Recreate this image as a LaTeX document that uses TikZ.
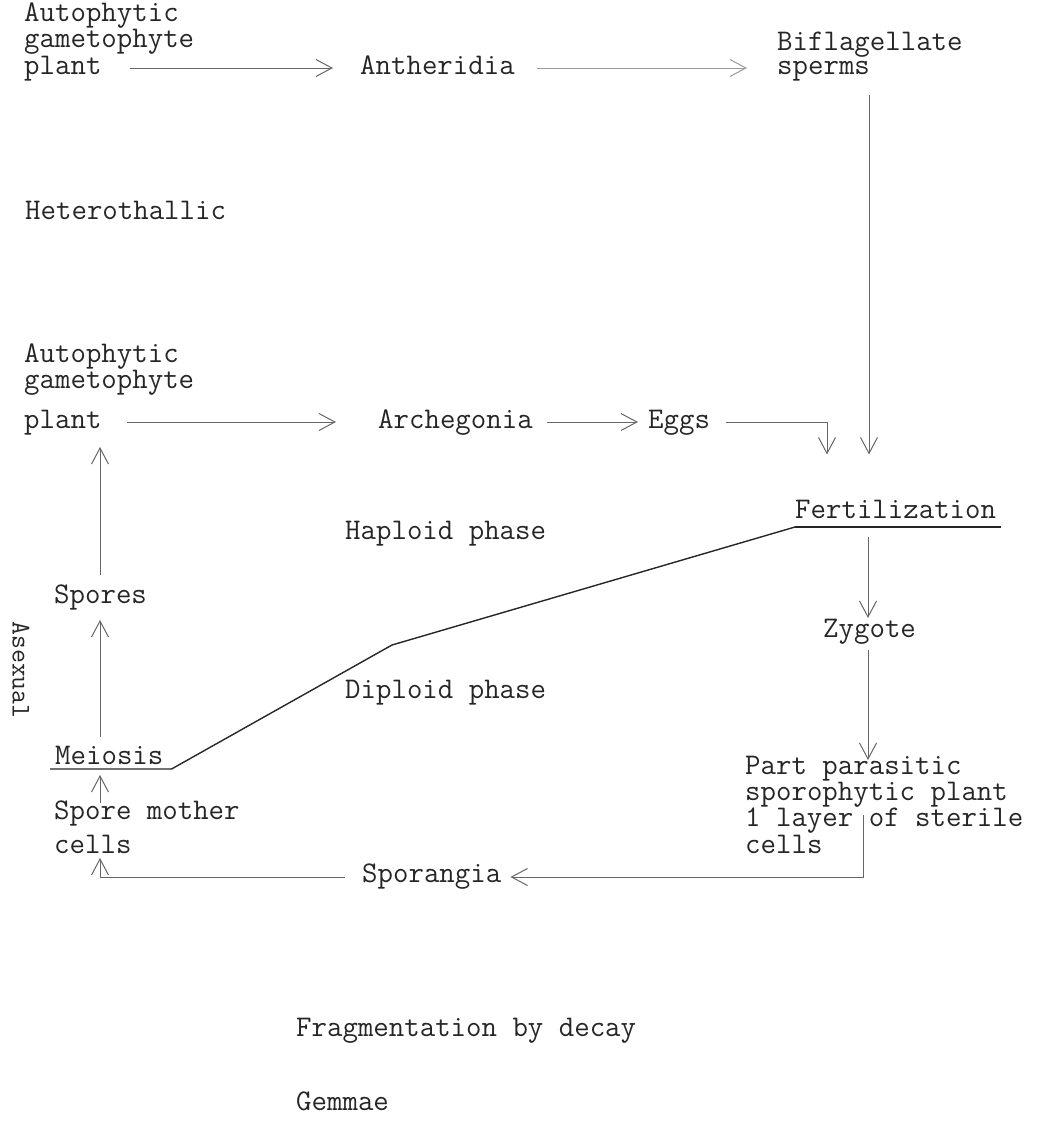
\documentclass[tikz,border=0pt]{standalone}
\usetikzlibrary{arrows.meta}
\begin{document}
\begin{tikzpicture}[x=1pt,y=-1pt,
  txt/.style={anchor=base west, inner sep=0pt, align=left,
    font=\fontsize{30}{24}\selectfont\ttfamily, text=black!85},
  ln/.style={line width=0.8pt, draw=black!60},
  arr/.style={-{Straight Barb[length=16pt,width=17pt,line width=1pt]}},
  phase/.style={line width=1.4pt, draw=black!85, line join=round},
]
\useasboundingbox (0,0) rectangle (1043,1127);

% male branch (a multi-line node sits on the baseline of its last line)
\node[txt] (gamA) at (24,74) {Autophytic\\gametophyte\\plant};
\node[txt] (anth) at (360,74) {Antheridia};
\node[txt] (sperm) at (777,74) {Biflagellate\\sperms};

\node[txt] (hetero) at (25,219) {Heterothallic};

% female branch
\node[txt] (gamB) at (24,428) {Autophytic\\gametophyte\\[13pt]plant};
\node[txt] (arch) at (378,428) {Archegonia};
\node[txt] (eggs) at (648,428) {Eggs};

% fertilization and sporophyte
\node[txt] (fert) at (795,518) {Fertilization};
\node[txt] (hap) at (345,539) {Haploid phase};
\node[txt] (dip) at (345,698) {Diploid phase};
\node[txt] (zyg) at (823,637) {Zygote};
\node[txt] (part) at (745,853) {Part parasitic\\sporophytic plant\\1 layer of sterile\\cells};
\node[txt] (spor) at (362,882) {Sporangia};

% asexual side
\node[txt] (spores) at (54,603) {Spores};
\node[txt] (mei) at (55,764) {Meiosis};
\node[txt] (smc) at (54,853) {Spore mother\\[8pt]cells};
\node[txt, anchor=center, rotate=-90, font=\fontsize{27}{24}\selectfont\ttfamily] (asex) at (21,670) {Asexual};

\node[txt] (frag) at (296,1036) {Fragmentation by decay};
\node[txt] (gem) at (296,1110) {Gemmae};

% connectors of the male branch
\draw[ln,arr] ([xshift=106pt,yshift=6pt]gamA.base west) -- ([xshift=-27pt,yshift=6pt]anth.base west);
\draw[ln,arr,draw=black!40] ([xshift=22pt,yshift=6pt]anth.base east) -- ([xshift=-30pt,yshift=6pt]sperm.base west);
\draw[ln,arr] ([xshift=92pt,yshift=-21pt]sperm.base west) -- ([xshift=74pt,yshift=45pt]fert.north west);

% connectors of the female branch
\draw[ln,arr] ([xshift=103pt,yshift=6pt]gamB.base west) -- ([xshift=-42pt,yshift=6pt]arch.base west);
\draw[ln,arr] ([xshift=14pt,yshift=6pt]arch.base east) -- ([xshift=-10pt,yshift=6pt]eggs.base west);
\draw[ln,arr] ([xshift=16pt,yshift=6pt]eggs.base east) -| ([xshift=32pt,yshift=45pt]fert.north west);

% haploid / diploid boundary with underlines
\coordinate (kink) at (392,645);
\draw[phase] ([xshift=-5pt,yshift=-5pt]mei.base west) -- ([xshift=8pt,yshift=-5pt]mei.base east)
  -- (kink) -- ([yshift=-9pt]fert.base west);
\draw[line width=2.2pt, draw=black!85] ([yshift=-9pt]fert.base west) -- ([xshift=5pt,yshift=-9pt]fert.base east);

% sporophyte connectors
\draw[ln,arr] ([xshift=73pt,yshift=-19pt]fert.base west) -- ([xshift=45pt,yshift=19pt]zyg.base west);
\draw[ln,arr] ([xshift=45pt,yshift=-13pt]zyg.base west) -- ([xshift=123pt,yshift=93pt]part.base west);
\draw[ln,arr] ([xshift=118pt,yshift=38pt]part.base west) |- ([xshift=9pt,yshift=5pt]spor.base east);
\draw[ln,arr] ([xshift=-17pt,yshift=5pt]spor.base west) -| ([xshift=46pt,yshift=-5pt]smc.base west);

% asexual connectors
\draw[ln,arr] ([xshift=46pt,yshift=50pt]smc.base west) -- ([xshift=45pt,yshift=-11pt]mei.base west);
\draw[ln,arr] ([xshift=45pt,yshift=27pt]mei.base west) -- ([xshift=46pt,yshift=-17pt]spores.base west);
\draw[ln,arr] ([xshift=46pt,yshift=28pt]spores.base west) -- ([xshift=76pt,yshift=-19pt]gamB.base west);
\end{tikzpicture}
\end{document}
